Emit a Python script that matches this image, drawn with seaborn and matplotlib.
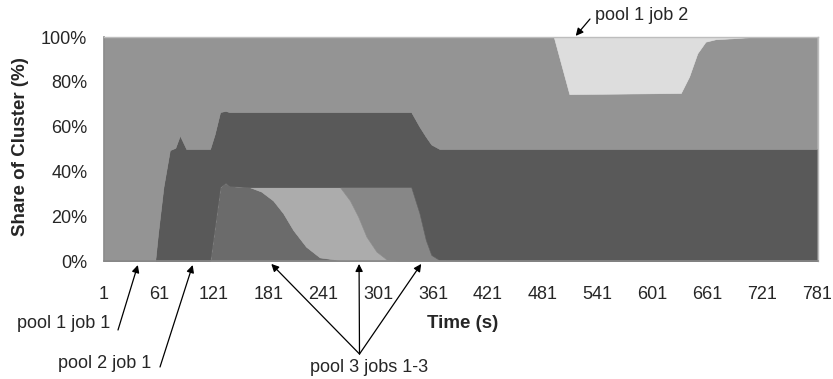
import numpy as np
import pandas as pd
import matplotlib
matplotlib.use("Agg")
import matplotlib.pyplot as plt
import seaborn as sns

# breakpoints (seconds)
time_s = [1, 57, 60, 66, 73, 79, 84, 91, 117, 122,
          128, 134, 138, 160, 173, 186, 197, 208, 222, 237,
          259, 270, 279, 288, 299, 310, 324, 337, 346, 353,
          359, 368, 493, 501, 510, 632, 641, 650, 659, 670,
          688, 710, 781]

# share of cluster (%), stacked bottom to top
pool3_job1 = [0, 0, 0, 0, 0, 0, 0, 0, 0, 15,
              33, 35, 33.5, 33, 31, 27, 21.3, 13.8, 6.4, 1.6,
              0.4, 0.2, 0, 0, 0, 0, 0, 0, 0, 0,
              0, 0, 0, 0, 0, 0, 0, 0, 0, 0,
              0, 0, 0]
pool3_job2 = [0, 0, 0, 0, 0, 0, 0, 0, 0, 0,
              0, 0, 0, 0, 2, 6, 11.7, 19.2, 26.6, 31.4,
              32.6, 26.8, 19.8, 10.9, 4.2, 0.7, 0, 0, 0, 0,
              0, 0, 0, 0, 0, 0, 0, 0, 0, 0,
              0, 0, 0]
pool3_job3 = [0, 0, 0, 0, 0, 0, 0, 0, 0, 0,
              0, 0, 0, 0, 0, 0, 0, 0, 0, 0,
              0, 6, 13.2, 22.1, 28.8, 32.3, 33, 33, 21.4, 9.4,
              2.7, 0.4, 0, 0, 0, 0, 0, 0, 0, 0,
              0, 0, 0]
pool2_job1 = [0, 0, 12, 33, 49.5, 50.5, 56, 50, 50, 41.5,
              33.5, 32, 33, 33.5, 33.5, 33.5, 33.5, 33.5, 33.5, 33.5,
              33.5, 33.5, 33.5, 33.5, 33.5, 33.5, 33.5, 33.5, 38.6, 46.1,
              49.3, 49.6, 50, 50, 50, 50, 50, 50, 50, 50,
              50, 50, 50]
pool1_job1 = [100, 100, 88, 67, 50.5, 49.5, 44, 50, 50, 43.5,
              33.5, 33, 33.5, 33.5, 33.5, 33.5, 33.5, 33.5, 33.5, 33.5,
              33.5, 33.5, 33.5, 33.5, 33.5, 33.5, 33.5, 33.5, 40, 44.5,
              48, 50, 50, 38, 24.5, 25, 32.3, 42.7, 47.9, 49,
              49.4, 50, 50]
pool1_job2 = [0, 0, 0, 0, 0, 0, 0, 0, 0, 0,
              0, 0, 0, 0, 0, 0, 0, 0, 0, 0,
              0, 0, 0, 0, 0, 0, 0, 0, 0, 0,
              0, 0, 0, 12, 25.5, 25, 17.7, 7.3, 2.1, 1,
              0.6, 0, 0]

x_labels = list(range(1, 782, 60))
y_ticks = [0, 20, 40, 60, 80, 100]

df = pd.DataFrame({
    "time": time_s,
    "pool3_job1": pool3_job1,
    "pool3_job2": pool3_job2,
    "pool3_job3": pool3_job3,
    "pool2_job1": pool2_job1,
    "pool1_job1": pool1_job1,
    "pool1_job2": pool1_job2,
})
cols = ["pool3_job1", "pool3_job2", "pool3_job3", "pool2_job1", "pool1_job1", "pool1_job2"]
colors = ["#6b6b6b", "#acacac", "#878787", "#595959", "#949494", "#dddddd"]

sns.set_style("white")
plt.rcParams['font.family'] = ['Liberation Sans', 'DejaVu Sans']

W, H = 833, 379
fig = plt.figure(figsize=(W / 100, H / 100), dpi=100)
ax = fig.add_axes([104 / W, 1 - 261 / H, 714 / W, 224 / H])

polys = ax.stackplot(df["time"], df[cols].T.values, colors=colors, linewidth=0.4)
for p, c in zip(polys, colors):
    p.set_edgecolor(c)

ax.set_xlim(1, 782)
ax.set_ylim(0, 100)
ax.set_xticks(x_labels)
ax.set_xticklabels([str(v) for v in x_labels])
ax.set_xticks(list(range(31, 782, 60)), minor=True)
ax.set_yticks(y_ticks)
ax.set_yticklabels([f"{v}%" for v in y_ticks])
ax.set_yticks(list(range(10, 100, 20)), minor=True)
ax.tick_params(axis="both", which="both", direction="out", color="#888888", width=1)
ax.tick_params(axis="x", which="both", length=4, pad=14, labelsize=13)
ax.tick_params(axis="y", which="both", length=5, pad=7, labelsize=13)

for s in ["left", "bottom"]:
    ax.spines[s].set_color("#888888")
    ax.spines[s].set_linewidth(1.2)
for s in ["top", "right"]:
    ax.spines[s].set_color("#bdbdbd")
    ax.spines[s].set_linewidth(1)


def fp(x, y):
    return (x / W, 1 - y / H)


fig.text(*fp(21, 147), "Share of Cluster (%)", rotation=90, ha="center", va="center",
         fontsize=13.5, fontweight="bold")
fig.text(*fp(463, 324), "Time (s)", ha="center", va="center", fontsize=13.5, fontweight="bold")

arrow = dict(arrowstyle="-|>", color="black", lw=0.9, shrinkA=0, shrinkB=0, mutation_scale=11)

fig.text(*fp(595, 16), "pool 1 job 2", ha="left", va="center", fontsize=13)
ax.annotate("", xy=(517, 100.5), xycoords="data", xytext=fp(590, 19),
            textcoords="figure fraction", arrowprops=arrow, annotation_clip=False)

fig.text(*fp(17, 323), "pool 1 job 1", ha="left", va="center", fontsize=13)
ax.annotate("", xy=(38, -1.8), xycoords="data", xytext=fp(118, 330),
            textcoords="figure fraction", arrowprops=arrow, annotation_clip=False)

fig.text(*fp(58, 364), "pool 2 job 1", ha="left", va="center", fontsize=13)
ax.annotate("", xy=(98, -1.8), xycoords="data", xytext=fp(160, 367),
            textcoords="figure fraction", arrowprops=arrow, annotation_clip=False)

fig.text(*fp(369, 368), "pool 3 jobs 1-3", ha="center", va="center", fontsize=13)
for t in [184, 280, 348]:
    ax.annotate("", xy=(t, -1.3), xycoords="data", xytext=fp(359.5, 354),
                textcoords="figure fraction", arrowprops=arrow, annotation_clip=False)

fig.savefig("out.png", dpi=100)
